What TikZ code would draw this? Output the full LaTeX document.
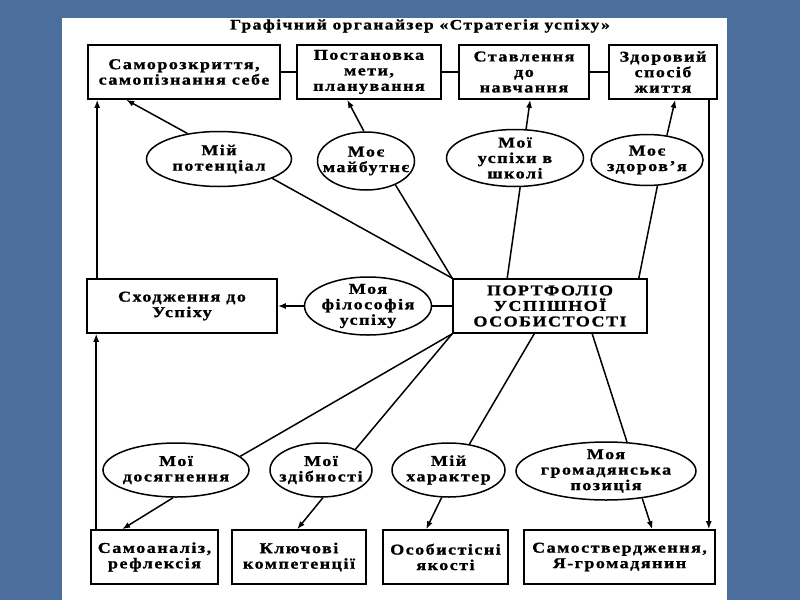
\documentclass[tikz,border=0pt]{standalone}
\usepackage{fontspec}
\setmainfont{Liberation Serif}[FakeStretch=1.2,LetterSpace=10,BoldFeatures={FakeBold=1.2}]
\usetikzlibrary{shapes.geometric,arrows.meta}
\definecolor{slide}{RGB}{76,110,156}

\begin{document}
\begin{tikzpicture}[x=1pt,y=-1pt,line width=1.5pt,>={Latex[length=8pt,width=6pt]},
    every node/.style={font=\fontsize{15}{15.5}\selectfont\bfseries},
    box/.style={draw,line width=1.6pt,inner sep=2pt,align=center,minimum height=54pt},
    oval/.style={draw,ellipse,inner xsep=-14pt,inner ysep=-8pt,align=center}]
    \fill[slide] (0,0) rectangle (800,600);
    \fill[white] (62,18) rectangle (727,600);
    \node[font=\fontsize{14.5}{16}\selectfont\bfseries] (title) at (420,26) {Графічний органайзер «Стратегія успіху»};
    \node[box,minimum width=192pt] (b1) at (184,72) {Саморозкриття,\\самопізнання себе};
    \node[box,minimum width=144pt] (b2) at (369,72) {Постановка\\мети,\\планування};
    \node[box,minimum width=130pt] (b3) at (524,72) {Ставлення\\до\\навчання};
    \node[box,minimum width=108pt] (b4) at (663,72) {Здоровий\\спосіб\\життя};
    \draw (b1) -- (b2);
    \draw (b2) -- (b3);
    \draw (b3) -- (b4);
    \node[oval,minimum width=145pt,minimum height=55pt] (e1) at (219,159) {Мій\\потенціал};
    \node[oval,minimum width=97pt,minimum height=58pt] (e2) at (366,161) {Моє\\майбутнє};
    \node[oval,minimum width=137pt,minimum height=57pt] (e3) at (515,158) {Мої\\успіхи в\\школі};
    \node[oval,minimum width=112pt,minimum height=51pt] (e4) at (647,160) {Моє\\здоров’я};
    \draw[->] (e1.141) -- ([xshift=39pt]b1.south west);
    \draw[->] (e2.94) -- ([xshift=51pt]b2.south west);
    \draw[->] (e3.69) -- ([xshift=72pt]b3.south west);
    \draw[->] (e4.51) -- ([xshift=67pt]b4.south west);
    \node[box,minimum width=194pt] (p) at (550,306) {ПОРТФОЛІО\\УСПІШНОЇ\\ОСОБИСТОСТІ};
    \draw (p.north west) -- (e1.-20);
    \draw (p.north west) -- (e2.-39);
    \draw ([xshift=55pt]p.north west) -- (e3.-80);
    \draw ([xshift=-9pt]p.north east) -- (e4.-68);
    \node[oval,minimum width=127pt,minimum height=58pt] (e5) at (368,306) {Моя\\філософія\\успіху};
    \node[box,minimum width=190pt] (b5) at (182,306) {Сходження до\\Успіху};
    \draw (p) -- (e5);
    \draw[->] (e5) -- (b5);
    \draw[->] ([xshift=10pt]b1.south west |- b5.north) -- ([xshift=10pt]b1.south west);
    \node[oval,minimum width=146pt,minimum height=54pt] (e6) at (176,470) {Мої\\досягнення};
    \node[oval,minimum width=102pt,minimum height=54pt] (e7) at (321,470) {Мої\\здібності};
    \node[oval,minimum width=113pt,minimum height=54pt] (e8) at (448.5,470) {Мій\\характер};
    \node[oval,minimum width=180pt,minimum height=58pt] (e9) at (606,471) {Моя\\громадянська\\позиція};
    \draw (p.south west) -- (e6.12);
    \draw (p.south west) -- (e7.31);
    \draw ([xshift=82pt]p.south west) -- (e8.51);
    \draw ([xshift=140pt]p.south west) -- (e9.54);
    \node[box,minimum width=127pt] (b6) at (154.5,557) {Самоаналіз,\\рефлексія};
    \node[box,minimum width=134pt] (b7) at (299,557) {Ключові\\компетенції};
    \node[box,minimum width=125pt] (b8) at (445.5,557) {Особистісні\\якості};
    \node[box,minimum width=191pt] (b9) at (619.5,557) {Самоствердження,\\Я-громадянин};
    \draw[->] (e6.-96) -- ([xshift=32pt]b6.north west);
    \draw[->] (e7.-86) -- ([xshift=66pt]b7.north west);
    \draw[->] (e8.-104) -- ([xshift=44pt]b8.north west);
    \draw[->] (e9.-37) -- ([xshift=129pt]b9.north west);
    \draw[->] ([xshift=6pt]b6.north west) -- ([xshift=6pt]b6.north west |- b5.south);
    \draw[->] ([xshift=-9pt]b4.south east) -- ([xshift=-9pt]b4.south east |- b9.north);
\end{tikzpicture}
\end{document}
